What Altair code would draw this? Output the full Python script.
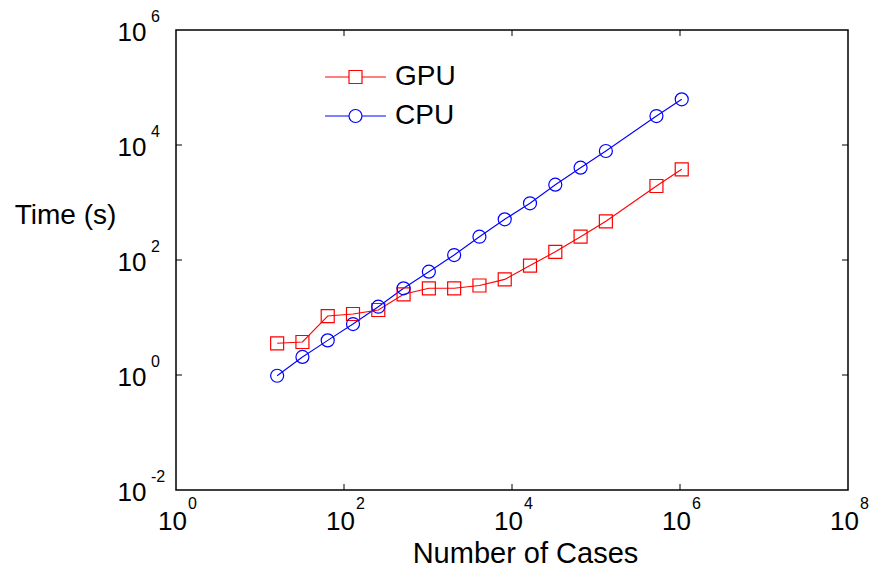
import altair as alt
import pandas as pd

# Problem sizes (number of cases) and run times in seconds
cases = [16, 32, 64, 128, 256, 512, 1024, 2048, 4096, 8192, 16384, 32768,
         65536, 131072, 524288, 1048576]
gpu_time = [3.56, 3.75, 10.6, 11.5, 13.5, 25.3, 32.2, 32.2, 36.0, 46.0, 80.0,
            139.0, 254.0, 471.0, 1936.0, 3780.0]
cpu_time = [0.97, 2.06, 4.0, 7.7, 15.4, 32.2, 62.6, 122.0, 254.0, 510.0, 969.0,
            2040.0, 4030.0, 7870.0, 31900.0, 62300.0]

series_names = ["GPU", "CPU"]
series_colors = ["#ff0000", "#0000ff"]

x_tick_values = [1, 1e2, 1e4, 1e6, 1e8]
x_tick_exponents = ["0", "2", "4", "6", "8"]
y_tick_values = [1e-2, 1, 1e2, 1e4, 1e6]
y_tick_exponents = ["-2", "0", "2", "4", "6"]
x_inner_ticks = [1e2, 1e4, 1e6]
y_inner_ticks = [1, 1e2, 1e4]

W, H = 672, 460
FONT = "Liberation Sans"

df = pd.DataFrame({
    "cases": cases * 2,
    "time": gpu_time + cpu_time,
    "device": ["GPU"] * len(cases) + ["CPU"] * len(cases),
})

xscale = alt.Scale(type="log", domain=[1, 1e8], nice=False)
yscale = alt.Scale(type="log", domain=[1e-2, 1e6], nice=False)

# legend keys: a short line with the marker in the middle
gpu_key = "M-2.03,0H-0.433M0.433,0H2.03M-0.433,-0.433H0.433V0.433H-0.433Z"
cpu_key = ("M-2.03,0H-0.433M0.433,0H2.03M0.433,0A0.433,0.433,0,1,1,-0.433,0"
           "A0.433,0.433,0,1,1,0.433,0Z")

legend_props = dict(
    orient="none", legendX=163.5, legendY=31, title=None,
    labelFont=FONT, labelFontSize=28, labelColor="black", labelOffset=23.5,
    symbolSize=900, symbolStrokeWidth=1.2, symbolOpacity=1, rowPadding=9,
    padding=0,
)

x_enc = alt.X(
    "cases:Q", scale=xscale,
    axis=alt.Axis(
        values=x_tick_values, labelExpr="'10'", labelFont=FONT, labelFontSize=26,
        labelColor="black", labelBaseline="alphabetic", labelPadding=39,
        labelOffset=-4, labelFlush=False, labelOverlap=False,
        domain=False, ticks=False, tickSize=0, grid=False,
        title="Number of Cases", titleFont=FONT, titleFontSize=29,
        titleFontWeight="normal", titleColor="black", titleX=349, titleY=72,
        titleAlign="center", titleBaseline="alphabetic",
    ),
)
y_enc = alt.Y(
    "time:Q", scale=yscale,
    axis=alt.Axis(
        values=y_tick_values, labelExpr="'10'", labelFont=FONT, labelFontSize=26,
        labelColor="black", labelBaseline="alphabetic", labelPadding=30,
        labelOffset=10, labelFlush=False, labelOverlap=False,
        domain=False, ticks=False, tickSize=0, grid=False,
        title="Time (s)", titleFont=FONT, titleFontSize=28,
        titleFontWeight="normal", titleColor="black", titleAngle=0,
        titleX=-111, titleY=193, titleAlign="center", titleBaseline="alphabetic",
    ),
)


def series_line(name, color):
    return alt.Chart(df).transform_filter(alt.datum.device == name).mark_line(
        strokeWidth=1.1, color=color
    ).encode(x=x_enc, y=y_enc)


def series_points(name, color, shape):
    return alt.Chart(df).transform_filter(alt.datum.device == name).mark_point(
        shape=shape, size=169, strokeWidth=1.2, filled=False, opacity=1,
        color=color
    ).encode(x="cases:Q", y="time:Q")


gpu_line = series_line("GPU", series_colors[0])
cpu_line = series_line("CPU", series_colors[1])
gpu_pts = series_points("GPU", series_colors[0], "square")
cpu_pts = series_points("CPU", series_colors[1], "circle")

# invisible layer that carries the GPU / CPU key
key = alt.Chart(df).mark_point(opacity=0, filled=False).encode(
    x="cases:Q", y="time:Q",
    color=alt.Color("device:N",
                    scale=alt.Scale(domain=series_names, range=series_colors),
                    legend=alt.Legend(**legend_props)),
    shape=alt.Shape("device:N",
                    scale=alt.Scale(domain=series_names, range=[gpu_key, cpu_key]),
                    legend=alt.Legend(**legend_props)),
)

# inward tick marks on all four sides of the frame
xt = pd.DataFrame({"v": x_inner_ticks})
yt = pd.DataFrame({"v": y_inner_ticks})
tick_style = dict(color="black", strokeWidth=1)
x_bottom = alt.Chart(xt).mark_rule(**tick_style).encode(
    x=alt.X("v:Q", scale=xscale), y=alt.value(H), y2=alt.value(H - 6))
x_top = alt.Chart(xt).mark_rule(**tick_style).encode(
    x=alt.X("v:Q", scale=xscale), y=alt.value(0), y2=alt.value(6))
y_left = alt.Chart(yt).mark_rule(**tick_style).encode(
    y=alt.Y("v:Q", scale=yscale), x=alt.value(0), x2=alt.value(6))
y_right = alt.Chart(yt).mark_rule(**tick_style).encode(
    y=alt.Y("v:Q", scale=yscale), x=alt.value(W), x2=alt.value(W - 6))

# exponents of the power-of-ten tick labels
xe = pd.DataFrame({"v": x_tick_values, "e": x_tick_exponents})
ye = pd.DataFrame({"v": y_tick_values, "e": y_tick_exponents})
x_exp = alt.Chart(xe).mark_text(
    font=FONT, fontSize=16, align="left", baseline="alphabetic", dx=12,
    color="black"
).encode(x=alt.X("v:Q", scale=xscale), y=alt.value(H + 19), text="e:N")
y_exp = alt.Chart(ye).mark_text(
    font=FONT, fontSize=16, align="left", baseline="alphabetic", dy=-8,
    color="black"
).encode(y=alt.Y("v:Q", scale=yscale), x=alt.value(-25), text="e:N")

chart = alt.layer(
    gpu_line, cpu_line, gpu_pts, cpu_pts, key,
    x_bottom, x_top, y_left, y_right, x_exp, y_exp
).properties(
    width=W, height=H,
    autosize=alt.AutoSizeParams(type="none"),
    padding={"left": 176, "top": 30, "right": 22, "bottom": 79},
    background="white",
).configure_view(stroke="black", strokeWidth=1.5)

chart.save("out.html", embed_options={"renderer": "svg", "actions": False})
